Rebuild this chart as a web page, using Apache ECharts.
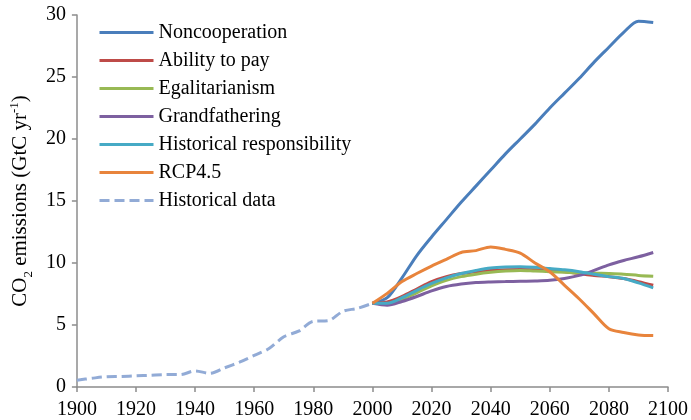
<!DOCTYPE html>
<html>
<head>
<meta charset="utf-8">
<script src="https://cdn.jsdelivr.net/npm/echarts@6/dist/echarts.min.js"></script>
<style>
  html, body { margin: 0; padding: 0; background: #fff; }
  #chart { width: 691px; height: 420px; }
</style>
</head>
<body>
<div id="chart"></div>
<script>
// years for the historical record and for the scenarios
var histYears = [1900, 1905, 1910, 1915, 1920, 1925, 1930, 1935, 1940, 1945, 1950,
  1955, 1960, 1965, 1970, 1975, 1980, 1985, 1990, 1995, 2000];
var histValues = [0.55, 0.7, 0.83, 0.85, 0.9, 0.95, 1.0, 1.0, 1.3, 1.1, 1.55,
  2.0, 2.55, 3.1, 4.05, 4.5, 5.3, 5.35, 6.1, 6.35, 6.75];

var scenYears = [2000, 2005, 2010, 2015, 2020, 2025, 2030, 2035, 2040, 2045,
  2050, 2055, 2060, 2065, 2070, 2075, 2080, 2085, 2090, 2095];
var noncoop = [6.75, 7.2, 8.8, 10.6, 12.1, 13.5, 14.9, 16.2, 17.5, 18.8,
  20.0, 21.2, 22.5, 23.7, 24.9, 26.2, 27.4, 28.6, 29.5, 29.4];
var abilityToPay = [6.75, 6.85, 7.3, 7.9, 8.5, 8.9, 9.15, 9.3, 9.4, 9.45,
  9.47, 9.45, 9.4, 9.3, 9.15, 9.0, 8.9, 8.75, 8.5, 8.2];
var egalitarian = [6.75, 6.7, 7.1, 7.6, 8.15, 8.6, 8.9, 9.1, 9.25, 9.35,
  9.4, 9.35, 9.3, 9.25, 9.2, 9.18, 9.15, 9.1, 9.0, 8.93];
var grandfather = [6.75, 6.6, 6.9, 7.3, 7.75, 8.1, 8.3, 8.42, 8.47, 8.5,
  8.53, 8.55, 8.6, 8.75, 9.0, 9.4, 9.85, 10.2, 10.5, 10.85];
var histResp = [6.75, 6.75, 7.2, 7.8, 8.35, 8.8, 9.15, 9.4, 9.6, 9.68,
  9.7, 9.65, 9.55, 9.45, 9.3, 9.1, 8.9, 8.75, 8.4, 8.0];
var rcp45 = [6.75, 7.55, 8.5, 9.15, 9.75, 10.3, 10.85, 11.0, 11.3, 11.1,
  10.8, 10.0, 9.3, 8.2, 7.1, 5.9, 4.7, 4.4, 4.2, 4.15];

var legendNames = ['Noncooperation', 'Ability to pay', 'Egalitarianism', 'Grandfathering',
  'Historical responsibility', 'RCP4.5', 'Historical data'];

function pairs(xs, ys) {
  return xs.map(function (x, i) { return [x, ys[i]]; });
}

var font = 'Liberation Serif';
var axisGray = '#8c8c8c';

function scen(name, color, values) {
  return {
    name: name,
    type: 'line',
    data: pairs(scenYears, values),
    smooth: 0.3,
    symbol: 'none',
    lineStyle: { color: color, width: 3 },
    itemStyle: { color: color }
  };
}

var chart = echarts.init(document.getElementById('chart'));

var option = {
  animation: false,
  backgroundColor: '#fff',
  grid: { left: 64, right: 22, top: 15, bottom: 33 },
  legend: {
    orient: 'vertical',
    left: 98,
    top: 21,
    padding: 0,
    itemWidth: 54,
    itemHeight: 14,
    itemGap: 5,
    itemStyle: { opacity: 0 },
    lineStyle: { width: 3 },
    textStyle: { fontFamily: font, fontSize: 20, color: '#000', lineHeight: 23 },
    data: legendNames
  },
  xAxis: {
    type: 'value',
    min: 1900,
    max: 2100,
    interval: 20,
    axisLine: { lineStyle: { color: axisGray, width: 1.5 } },
    axisTick: { length: 5, lineStyle: { color: axisGray, width: 1.5 } },
    splitLine: { show: false },
    axisLabel: {
      fontFamily: font, fontSize: 20, color: '#000', margin: 13,
      formatter: function (v) { return String(v); }
    }
  },
  yAxis: {
    type: 'value',
    min: 0,
    max: 30,
    interval: 5,
    name: 'CO{sub|2} emissions (GtC yr{sup|-1})',
    nameLocation: 'middle',
    nameGap: 37,
    nameTextStyle: {
      fontFamily: font, fontSize: 21, color: '#000', lineHeight: 24,
      rich: {
        sub: { fontFamily: font, fontSize: 13, lineHeight: 13, verticalAlign: 'bottom', padding: [0, 0, -3, 0] },
        sup: { fontFamily: font, fontSize: 13, lineHeight: 13, verticalAlign: 'top' }
      }
    },
    axisLine: { show: true, lineStyle: { color: axisGray, width: 1.5 } },
    axisTick: { show: true, length: 5, lineStyle: { color: axisGray, width: 1.5 } },
    splitLine: { show: false },
    axisLabel: { fontFamily: font, fontSize: 20, color: '#000', margin: 11 }
  },
  series: [
    scen('Noncooperation', '#4A7EBB', noncoop),
    scen('Ability to pay', '#BE4B48', abilityToPay),
    scen('Egalitarianism', '#98B954', egalitarian),
    scen('Grandfathering', '#7D60A0', grandfather),
    scen('Historical responsibility', '#46AAC5', histResp),
    scen('RCP4.5', '#E8843C', rcp45),
    {
      name: 'Historical data',
      type: 'line',
      data: pairs(histYears, histValues),
      smooth: 0.3,
      symbol: 'none',
      lineStyle: { color: '#92ABD6', width: 3, type: [10, 5] },
      itemStyle: { color: '#92ABD6' }
    }
  ]
};

chart.setOption(option);
</script>
</body>
</html>
